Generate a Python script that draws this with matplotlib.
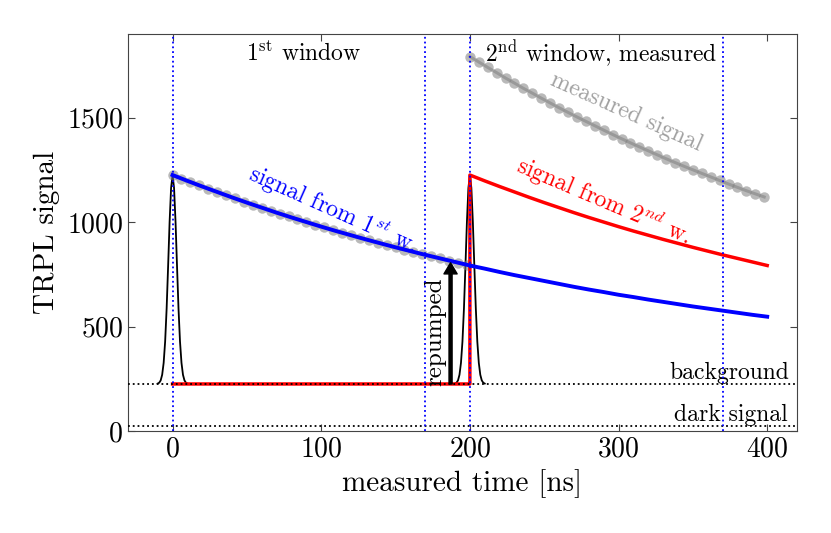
import matplotlib
matplotlib.use("Agg")
import matplotlib.pyplot as plt

plt.rcParams["font.family"] = ["cmr10"]
plt.rcParams["mathtext.fontset"] = "cm"
plt.rcParams["axes.unicode_minus"] = False
plt.rcParams["axes.formatter.use_mathtext"] = True

# levels
background = 225
dark_signal = 25
window_lines = [0, 170, 200, 370]

# laser pulses (offset from pulse centre in ns, signal)
pulse_centres = [0, 200]
pulse_dt = [-10, -9, -8, -7, -6, -5, -4, -3, -2, -1, 0, 1, 2, 3, 4, 5, 6, 7, 8, 9, 10]
pulse_signal = [227, 231, 242, 269, 326, 428, 585, 788, 1000, 1163, 1225,
                1163, 1000, 788, 585, 428, 326, 269, 242, 231, 227]

# decay from the first window
blue_t = [0, 10, 20, 30, 40, 50, 60, 70, 80, 90, 100, 110, 120, 130, 140, 150, 160,
          170, 180, 190, 200, 210, 220, 230, 240, 250, 260, 270, 280, 290, 300, 310,
          320, 330, 340, 350, 360, 370, 380, 390, 400]
blue_sig = [1225, 1197, 1170, 1144, 1118, 1093, 1069, 1045, 1022, 1000, 978, 957, 937,
            917, 898, 879, 861, 843, 826, 809, 792, 777, 761, 746, 732, 718, 704, 690,
            677, 665, 652, 641, 629, 618, 607, 596, 586, 576, 566, 556, 547]

# decay from the second window
red_t = [0, 200, 200, 210, 220, 230, 240, 250, 260, 270, 280, 290, 300, 310, 320, 330,
         340, 350, 360, 370, 380, 390, 400]
red_sig = [225, 225, 1225, 1197, 1170, 1144, 1118, 1093, 1069, 1045, 1022, 1000, 978,
           957, 937, 917, 898, 879, 861, 843, 826, 809, 792]

# measured points
meas1_t = [0, 6, 12, 18, 24, 30, 36, 42, 48, 54, 60, 66, 72, 78, 84, 90, 96, 102, 108,
           114, 120, 126, 132, 138, 144, 150, 156, 162, 168, 174, 180, 186, 192, 198]
meas1_sig = [1225, 1208, 1192, 1175, 1159, 1144, 1128, 1113, 1098, 1083, 1069, 1054,
             1040, 1027, 1013, 1000, 987, 974, 961, 949, 937, 925, 913, 901, 890, 879,
             868, 857, 846, 836, 826, 815, 805, 796]
meas2_t = [200, 206, 212, 218, 224, 230, 236, 242, 248, 254, 260, 266, 272, 278, 284,
           290, 296, 302, 308, 314, 320, 326, 332, 338, 344, 350, 356, 362, 368, 374,
           380, 386, 392, 398]
meas2_sig = [1792, 1766, 1740, 1715, 1689, 1665, 1640, 1617, 1593, 1570, 1547, 1525,
             1503, 1482, 1461, 1440, 1419, 1399, 1379, 1360, 1341, 1322, 1303, 1285,
             1267, 1250, 1233, 1216, 1199, 1182, 1166, 1150, 1135, 1120]

arrow_x = 187
arrow_top = 805

fig = plt.figure(figsize=(8.31, 5.33), dpi=100)
ax = fig.add_axes([0.154, 0.1914, 0.805, 0.7448])

for c in pulse_centres:
    ax.plot([c + d for d in pulse_dt], pulse_signal, color="k", lw=1.3, zorder=1)

for mt, ms in [(meas1_t, meas1_sig), (meas2_t, meas2_sig)]:
    ax.plot(mt, ms, color="gray", marker="o", ms=7.5, mew=0, lw=2.2, alpha=0.55, zorder=2)

ax.plot(red_t, red_sig, color="red", lw=2.5, zorder=3)
ax.plot(blue_t, blue_sig, color="blue", lw=2.8, zorder=3)

ax.axhline(background, color="k", ls=":", lw=1.3, zorder=4)
ax.axhline(dark_signal, color="k", ls=":", lw=1.3, zorder=4)
for x in window_lines:
    ax.axvline(x, color="blue", ls=":", lw=1.3, zorder=5)

ax.annotate("", xy=(arrow_x, arrow_top), xytext=(arrow_x, background),
            arrowprops=dict(width=2.2, headwidth=9.5, headlength=8, color="k", shrink=0))
ax.text(177, 477, "repumped", rotation=90, ha="center", va="center", fontsize=18)

ax.text(88, 1805, r"1$^{\rm st}$ window", ha="center", va="center", fontsize=17)
ax.text(288, 1805, r"2$^{\rm nd}$ window, measured", ha="center", va="center", fontsize=17)
ax.text(108, 1057, r"signal from $1^{st}$ w.", color="blue", rotation=-24,
        ha="center", va="center", fontsize=17)
ax.text(290, 1100, r"signal from $2^{nd}$ w.", color="red", rotation=-23,
        ha="center", va="center", fontsize=17)
ax.text(305, 1527, "measured signal", color="gray", alpha=0.75, rotation=-24,
        ha="center", va="center", fontsize=17)
ax.text(415, 250, "background", ha="right", va="baseline", fontsize=17)
ax.text(414, 50, "dark signal", ha="right", va="baseline", fontsize=17)

ax.set_xlim(-30, 420)
ax.set_ylim(0, 1900)
ax.set_xticks([0, 100, 200, 300, 400])
ax.set_yticks([0, 500, 1000, 1500])
ax.tick_params(direction="in", top=True, right=True, labelsize=20, length=5,
               color="#444444")
for s in ax.spines.values():
    s.set_color("#444444")
ax.set_xlabel("measured time [ns]", fontsize=21, labelpad=5)
ax.set_ylabel("TRPL signal", fontsize=21, labelpad=5)

fig.savefig("out.png", dpi=100)
